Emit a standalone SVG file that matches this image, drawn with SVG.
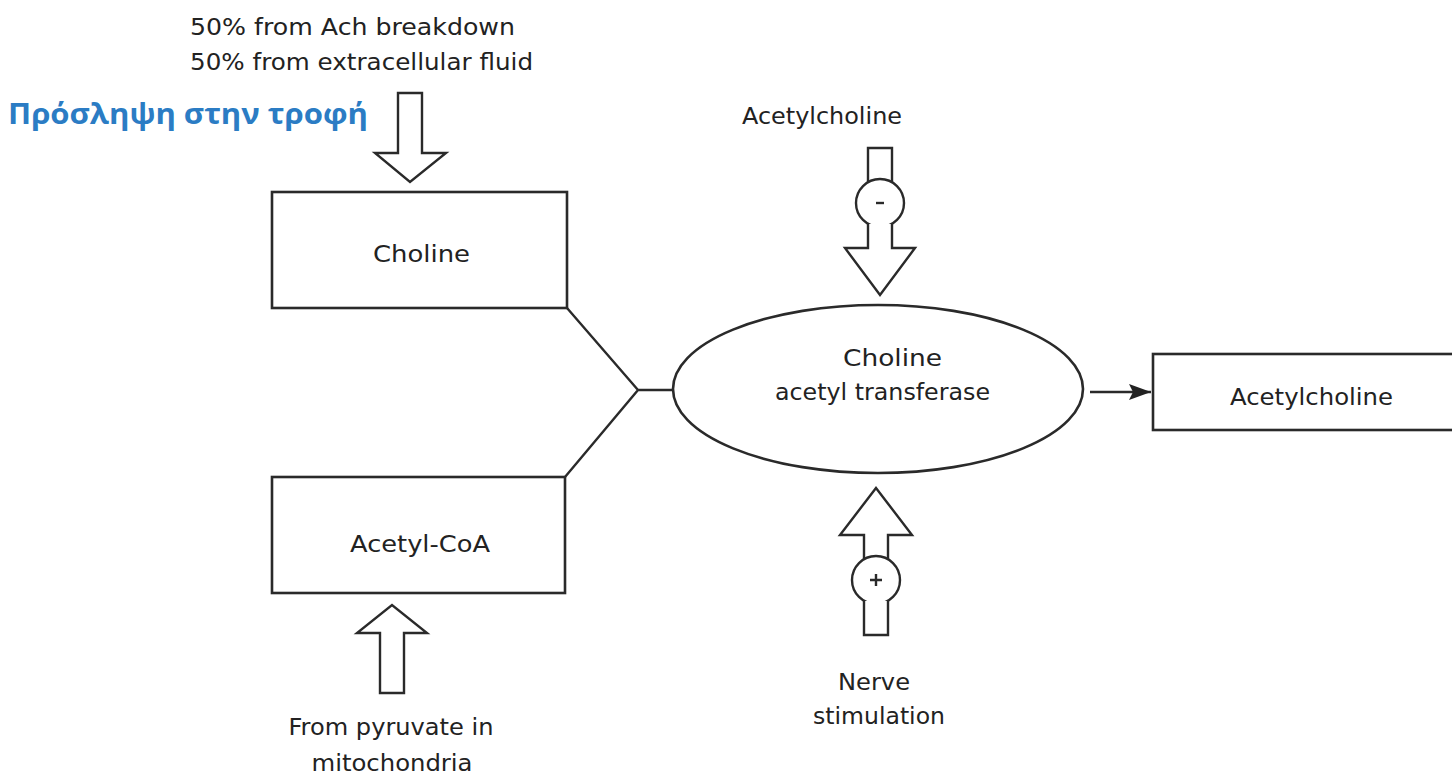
<svg xmlns="http://www.w3.org/2000/svg" width="1452" height="777" viewBox="0 0 1452 777">
<style>
.box{fill:#fff;stroke:#2a2a2a;stroke-width:2.6}
.ln{fill:none;stroke:#2a2a2a;stroke-width:2.4}
.ha{fill:#fff;stroke:#2a2a2a;stroke-width:2.4;stroke-linejoin:miter}
.t{font-family:"DejaVu Sans","Liberation Sans",sans-serif;font-size:23px;fill:#222}
.m{text-anchor:middle}
.gr{font-family:"Open Sans","Noto Sans",sans-serif;font-size:28px;font-weight:bold;fill:#2b7cc4}
</style>
<defs>
<marker id="ah" viewBox="0 0 22 16" refX="22" refY="8" markerWidth="22" markerHeight="16" markerUnits="userSpaceOnUse" orient="auto">
<path d="M0,0 L22,8 L0,16 L4,8 z" fill="#222"/>
</marker>
</defs>
<rect width="1452" height="777" fill="#fff"/>

<g id="source-choline">
<text class="t" x="190" y="35" textLength="325" lengthAdjust="spacingAndGlyphs">50% from Ach breakdown</text>
<text class="t" x="190" y="70" textLength="343" lengthAdjust="spacingAndGlyphs">50% from extracellular fluid</text>
</g>
<g id="label-greek">
<text class="gr" x="8" y="124" textLength="360" lengthAdjust="spacingAndGlyphs">Πρόσληψη στην τροφή</text>
</g>

<g id="choline">
<rect class="box" x="272" y="192" width="295" height="116"/>
<text class="t" x="373" y="262" textLength="97" lengthAdjust="spacingAndGlyphs">Choline</text>
</g>
<g id="acetyl-coa">
<rect class="box" x="272" y="477" width="293" height="116"/>
<text class="t" x="350" y="552" textLength="140" lengthAdjust="spacingAndGlyphs">Acetyl-CoA</text>
</g>
<g id="source-acetylcoa">
<text class="t m" x="391" y="735" textLength="205" lengthAdjust="spacingAndGlyphs">From pyruvate in</text>
<text class="t m" x="392" y="771" textLength="161" lengthAdjust="spacingAndGlyphs">mitochondria</text>
</g>

<g id="enzyme">
<ellipse class="box" cx="878" cy="389" rx="205" ry="84"/>
<text class="t" x="843" y="366" textLength="99" lengthAdjust="spacingAndGlyphs">Choline</text>
<text class="t" x="775" y="400" textLength="215" lengthAdjust="spacingAndGlyphs">acetyl transferase</text>
</g>

<g id="acetylcholine-product">
<rect class="box" x="1153" y="354" width="320" height="76"/>
<text class="t" x="1230" y="405" textLength="163" lengthAdjust="spacingAndGlyphs">Acetylcholine</text>
</g>

<g id="inhibitor-label">
<text class="t" x="742" y="124" textLength="160" lengthAdjust="spacingAndGlyphs">Acetylcholine</text>
</g>
<g id="stimulus-label">
<text class="t" x="838" y="690" textLength="72" lengthAdjust="spacingAndGlyphs">Nerve</text>
<text class="t" x="813" y="724" textLength="132" lengthAdjust="spacingAndGlyphs">stimulation</text>
</g>

<g id="connectors">
<path class="ha" d="M398,93 H422 V153 H446 L410,182 L375,153 H398 Z"/>
<path class="ha" d="M380,693 V633 H357 L392,605 L427,633 H404 V693 Z"/>
<path class="ln" d="M567,308 L638,390 L565,477 M638,390 H673"/>
<line class="ln" x1="1090" y1="392" x2="1151" y2="392" marker-end="url(#ah)"/>
<g id="inhibition">
<path class="ha" d="M868,182 V148 H892 V182"/>
<circle class="ha" cx="880" cy="203" r="24"/>
<line class="ln" x1="876" y1="203" x2="884" y2="203" stroke-width="1.5"/>
<path class="ha" d="M868,224 V248 H845 L880,295 L915,248 H892 V224"/>
</g>
<g id="stimulation">
<path class="ha" d="M864,559 V535 H840 L876,488 L912,535 H888 V559"/>
<circle class="ha" cx="876" cy="580" r="24"/>
<path class="ln" d="M870,580 H882 M876,574 V586" stroke-width="1.6"/>
<path class="ha" d="M864,601 V635 H888 V601"/>
</g>
</g>
</svg>
